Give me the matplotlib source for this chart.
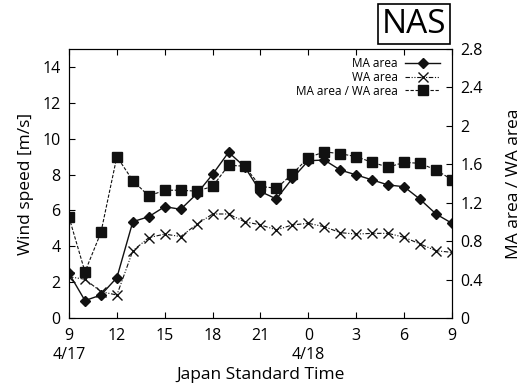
import matplotlib
matplotlib.use("Agg")
import matplotlib.pyplot as plt

plt.rcParams['font.family'] = ['Open Sans', 'DejaVu Sans']

# hours after 9:00 on 4/17
hours = list(range(25))
ma_area = [2.49, 0.97, 1.28, 2.25, 5.37, 5.65, 6.21, 6.06, 6.92, 8.01, 9.24, 8.44, 7.05,
           6.64, 7.79, 8.77, 8.81, 8.25, 7.98, 7.70, 7.42, 7.32, 6.62, 5.80, 5.28]
wa_area = [2.30, 2.16, 1.47, 1.28, 3.75, 4.48, 4.68, 4.54, 5.22, 5.80, 5.80, 5.37, 5.19,
           4.91, 5.19, 5.28, 5.09, 4.76, 4.68, 4.72, 4.72, 4.50, 4.13, 3.75, 3.66]
ratio = [1.05, 0.48, 0.89, 1.68, 1.43, 1.27, 1.33, 1.33, 1.32, 1.37, 1.59, 1.58, 1.37,
         1.35, 1.50, 1.67, 1.73, 1.71, 1.68, 1.62, 1.57, 1.62, 1.61, 1.54, 1.44]

xtick_pos = [0, 3, 6, 9, 12, 15, 18, 21, 24]
xtick_labels = ['9\n4/17', '12', '15', '18', '21', '0\n4/18', '3', '6', '9']
left_ticks = [0, 2, 4, 6, 8, 10, 12, 14]
right_ticks = [0, 0.4, 0.8, 1.2, 1.6, 2.0, 2.4, 2.8]
right_labels = ['0', '0.4', '0.8', '1.2', '1.6', '2', '2.4', '2.8']

fig = plt.figure(figsize=(5.28, 3.86), dpi=100)
ax = fig.add_axes([0.1307, 0.1762, 0.7253, 0.6968])
ax2 = ax.twinx()

c = '#111111'
l1, = ax.plot(hours, ma_area, '-', color=c, lw=1.0, marker='D', ms=5, label='MA area')
l2, = ax.plot(hours, wa_area, color=c, lw=0.8, dashes=[4, 1.5, 1, 1.5, 1, 1.5],
              marker='x', ms=7, mew=1.0, label='WA area')
l3, = ax2.plot(hours, ratio, color=c, lw=0.8, dashes=[3, 1.5], marker='s', ms=7,
               label='MA area / WA area')

ax.set_xlim(0, 24)
ax.set_ylim(0, 15)
ax2.set_ylim(0, 2.8)
ax.set_xticks(xtick_pos)
ax.set_xticklabels(xtick_labels, fontsize=11.5, linespacing=1.2)
ax.set_yticks(left_ticks)
ax.tick_params(axis='y', labelsize=11.5, direction='in', length=4, pad=6)
ax.tick_params(axis='x', direction='in', length=4, top=True, pad=7.5)
ax2.set_yticks(right_ticks)
ax2.set_yticklabels(right_labels)
ax2.tick_params(axis='y', labelsize=11.5, direction='in', length=4, pad=6)

ax.set_ylabel('Wind speed [m/s]', fontsize=12.5, labelpad=6)
ax2.set_ylabel('MA area / WA area', fontsize=12.5, labelpad=17)
ax.set_xlabel('Japan Standard Time', fontsize=12.5, labelpad=3)

ax.legend([l1, l2, l3], ['MA area', 'WA area', 'MA area / WA area'], loc='upper right',
          frameon=False, markerfirst=False, fontsize=8.5, handlelength=3.0,
          labelspacing=0.08, borderaxespad=0.25, handletextpad=0.6,
          bbox_to_anchor=(0.99, 1.0))

fig.text(0.784, 0.937, 'NAS', fontsize=24, ha='center', va='center',
         bbox=dict(boxstyle='square,pad=0.1', fc='white', ec='black', lw=1.2))

fig.savefig('out.png', dpi=100)
